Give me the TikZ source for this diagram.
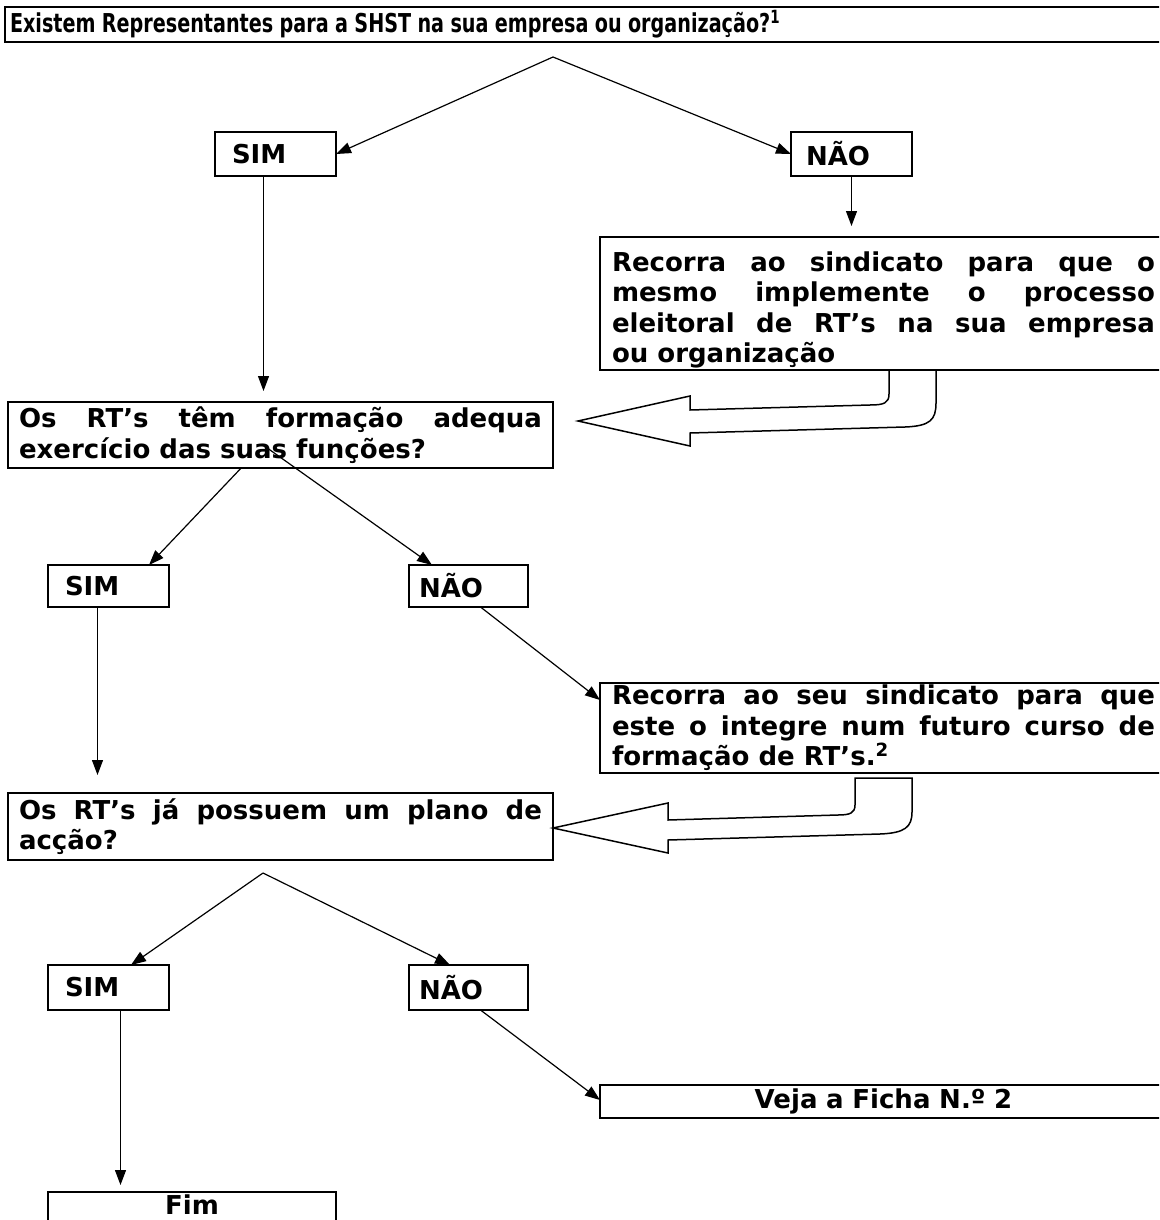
\documentclass[tikz,border=0pt]{standalone}
\usepackage{fontspec}
\setmainfont{DejaVu Sans}
\usepackage{graphicx}
\usetikzlibrary{arrows.meta,calc}
\begin{document}
\begin{tikzpicture}[x=1pt,y=-1pt,
  font=\bfseries\fontsize{26}{30.5}\selectfont,
  box/.style={draw,line width=1.8pt,fill=white,inner ysep=0pt,outer sep=0pt,anchor=north west},
  conn/.style={line width=1.2pt,-{Triangle[length=15pt,width=11pt]}},
  hollow/.style={draw,line width=1.5pt,fill=white,line join=miter}]
\useasboundingbox (0,0) rectangle (1159,1220);
\clip (0,0) rectangle (1159,1220);

% title
\node[box,minimum width=1160,minimum height=35,text width=1150,inner xsep=5pt,align=left] (q0) at (5,7)
  {\resizebox{770pt}{\height}{Existem Representantes para a SHST na sua empresa ou organização?\textsuperscript{1}}};

\coordinate (a1) at (553,57);
\node[box,minimum width=121,minimum height=44,text width=87,inner xsep=17pt,align=left] (sim1) at (215,132) {SIM};
\node[box,minimum width=121,minimum height=44,text width=91,inner xsep=15pt,align=left] (nao1) at (791,132) {NÃO};
\draw[conn] (a1) -- (sim1.east);
\draw[conn] (a1) -- (nao1.west);

\node[box,minimum width=567,minimum height=133,text width=543,inner xsep=12pt,align=justify] (rec1) at (600,237)
  {\rule{0pt}{33pt}Recorra ao sindicato para que o\linebreak mesmo implemente o processo\linebreak eleitoral de RT’s na sua empresa\linebreak ou organização};
\draw[conn,shorten >=11pt] (nao1.south) -- (nao1.south |- rec1.north);

% second level
\node[box,minimum width=121,minimum height=42,text width=87,inner xsep=17pt,align=left] (sim2) at (48,565) {SIM};
\node[box,minimum width=119,minimum height=42,text width=99,inner xsep=10pt,align=left] (nao2) at (409,565) {NÃO};
\coordinate (a2) at (263,445);
\draw[conn] (a2) -- ([xshift=-20pt]sim2.north east);
\node[box,minimum width=545,minimum height=66,text width=523,inner xsep=11pt,align=justify] (q1) at (8,402)
  {Os RT’s têm formação adequa\linebreak exercício das suas funções?};
\draw[conn] (a2) -- ([xshift=23pt]nao2.north west);
\draw[conn,shorten >=11pt] ([xshift=-12pt]sim1.south) -- ([xshift=-12pt]sim1.south |- q1.north);

\draw[hollow] (889,370) -- (889,394) .. controls (889,403) and (884,405) .. (870,405) -- (690,410) -- (690,396) -- (578,421)
  -- (690,446) -- (690,433) -- (905,427) .. controls (930,426) and (936,420) .. (936,403) -- (936,370) -- cycle;

\node[box,minimum width=567,minimum height=90,text width=543,inner xsep=12pt,align=justify] (rec2) at (600,683)
  {Recorra ao seu sindicato para que\linebreak este o integre num futuro curso de\linebreak formação de RT’s.\textsuperscript{2}};
\draw[conn] ([xshift=12pt]nao2.south) -- ([yshift=-17pt]rec2.north west);

% third level
\node[box,minimum width=545,minimum height=67,text width=523,inner xsep=11pt,align=justify] (q2) at (8,793)
  {Os RT’s já possuem um plano de\linebreak acção?};
\draw[conn,shorten >=18pt] ([xshift=-11pt]sim2.south) -- ([xshift=-11pt]sim2.south |- q2.north);

\draw[hollow] (855,778) -- (855,805) .. controls (855,813) and (850,815) .. (838,815) -- (668,820) -- (668,803) -- (553,828)
  -- (668,853) -- (668,840) -- (880,834) .. controls (905,833) and (912,827) .. (912,812) -- (912,778) -- cycle;

\node[box,minimum width=121,minimum height=45,text width=87,inner xsep=17pt,align=left] (sim3) at (48,965) {SIM};
\node[box,minimum width=119,minimum height=45,text width=99,inner xsep=10pt,align=left] (nao3) at (409,965) {NÃO};
\coordinate (a3) at (263,873);
\draw[conn] (a3) -- ([xshift=-38pt]sim3.north east);
\draw[conn] (a3) -- ([xshift=41pt]nao3.north west);

\node[box,minimum width=567,minimum height=33,text width=543,inner xsep=12pt,align=center] (veja) at (600,1085)
  {Veja a Ficha N.º 2};
\draw[conn] ([xshift=12pt]nao3.south) -- ([yshift=-15pt]veja.north west);

\node[box,draw=none,minimum width=288,minimum height=26,text width=270,inner xsep=9pt,align=center] (fim) at (48,1192) {Fim};
\draw[line width=1.8pt] ([yshift=-20pt]fim.south west) -- (fim.north west) -- (fim.north east) -- ([yshift=-20pt]fim.south east);
\draw[conn,shorten >=7pt] ([xshift=12pt]sim3.south) -- ([xshift=12pt]sim3.south |- fim.north);
\end{tikzpicture}
\end{document}
